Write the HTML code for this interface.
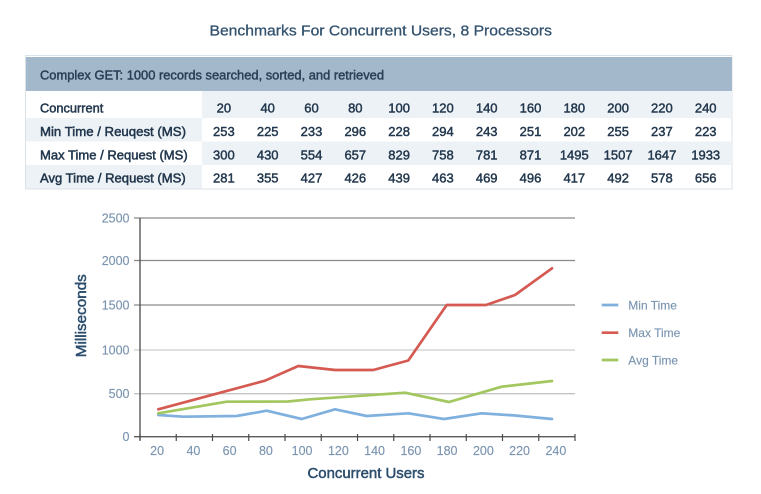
<!DOCTYPE html>
<html>
<head>
<meta charset="utf-8">
<style>
  html,body{margin:0;padding:0;background:#fff;}
  svg{display:block;}
  text{font-family:"Liberation Sans", sans-serif;}
</style>
</head>
<body>
<svg width="761" height="494" viewBox="0 0 761 494" xmlns="http://www.w3.org/2000/svg">
  <rect x="0" y="0" width="761" height="494" fill="#ffffff"/>

  <!-- Title -->
  <text x="209.5" y="35.5" font-size="14.5" fill="#34536f" stroke="#34536f" stroke-width="0.3" textLength="342.5" lengthAdjust="spacingAndGlyphs">Benchmarks For Concurrent Users, 8 Processors</text>

  <!-- Table -->
  <rect x="25.5" y="55.5" width="706.5" height="133.5" fill="#ffffff" stroke="#dbe3ea" stroke-width="1"/>
  <rect x="26" y="57" width="706" height="34" fill="#a3b8cb"/>
  <!-- row stripes -->
  <rect x="202" y="91" width="530" height="27" fill="#edf2f6"/>
  <rect x="26" y="118" width="176" height="23.5" fill="#edf2f6"/>
  <rect x="202" y="141.5" width="530" height="23.5" fill="#edf2f6"/>
  <rect x="26" y="165" width="176" height="23.5" fill="#edf2f6"/>

  <text x="40" y="79.3" font-size="12.5" fill="#2a3f55" stroke="#2a3f55" stroke-width="0.45" textLength="344" lengthAdjust="spacingAndGlyphs">Complex GET: 1000 records searched, sorted, and retrieved</text>

  <g font-size="13" fill="#22374d" stroke="#22374d" stroke-width="0.5">
    <text x="40" y="112.3" textLength="63.3" lengthAdjust="spacingAndGlyphs">Concurrent</text>
    <text x="40" y="136" textLength="146" lengthAdjust="spacingAndGlyphs">Min Time / Reuqest (MS)</text>
    <text x="40" y="159.3" textLength="147.7" lengthAdjust="spacingAndGlyphs">Max Time / Request (MS)</text>
    <text x="40" y="182.6" textLength="145.7" lengthAdjust="spacingAndGlyphs">Avg Time / Request (MS)</text>
  </g>

  <g font-size="13" fill="#22374d" stroke="#22374d" stroke-width="0.45" text-anchor="middle">
    <text x="223.9" y="112.3">20</text><text x="267.7" y="112.3">40</text><text x="311.5" y="112.3">60</text><text x="355.3" y="112.3">80</text><text x="399.1" y="112.3">100</text><text x="442.9" y="112.3">120</text><text x="486.7" y="112.3">140</text><text x="530.5" y="112.3">160</text><text x="574.3" y="112.3">180</text><text x="618.1" y="112.3">200</text><text x="661.9" y="112.3">220</text><text x="705.7" y="112.3">240</text>

    <text x="223.9" y="136">253</text><text x="267.7" y="136">225</text><text x="311.5" y="136">233</text><text x="355.3" y="136">296</text><text x="399.1" y="136">228</text><text x="442.9" y="136">294</text><text x="486.7" y="136">243</text><text x="530.5" y="136">251</text><text x="574.3" y="136">202</text><text x="618.1" y="136">255</text><text x="661.9" y="136">237</text><text x="705.7" y="136">223</text>

    <text x="223.9" y="159.3">300</text><text x="267.7" y="159.3">430</text><text x="311.5" y="159.3">554</text><text x="355.3" y="159.3">657</text><text x="399.1" y="159.3">829</text><text x="442.9" y="159.3">758</text><text x="486.7" y="159.3">781</text><text x="530.5" y="159.3">871</text><text x="574.3" y="159.3">1495</text><text x="618.1" y="159.3">1507</text><text x="661.9" y="159.3">1647</text><text x="705.7" y="159.3">1933</text>

    <text x="223.9" y="182.6">281</text><text x="267.7" y="182.6">355</text><text x="311.5" y="182.6">427</text><text x="355.3" y="182.6">426</text><text x="399.1" y="182.6">439</text><text x="442.9" y="182.6">463</text><text x="486.7" y="182.6">469</text><text x="530.5" y="182.6">496</text><text x="574.3" y="182.6">417</text><text x="618.1" y="182.6">492</text><text x="661.9" y="182.6">578</text><text x="705.7" y="182.6">656</text>
  </g>

  <!-- Chart gridlines -->
  <g stroke-width="1.3" fill="none">
    <line x1="134" y1="218" x2="575" y2="218" stroke="#8a8a8a"/>
    <line x1="134" y1="260.5" x2="575" y2="260.5" stroke="#8a8a8a"/>
    <line x1="134" y1="305" x2="575" y2="305" stroke="#8a8a8a"/>
    <line x1="134" y1="350" x2="575" y2="350" stroke="#cdcdcd"/>
    <line x1="134" y1="393.7" x2="575" y2="393.7" stroke="#c4c4c4"/>
  </g>
  <!-- axes -->
  <line x1="140" y1="218" x2="140" y2="440" stroke="#4a4a4a" stroke-width="1.3"/>
  <line x1="134" y1="436.7" x2="575" y2="436.7" stroke="#5a5a5a" stroke-width="1.3"/>
  <g stroke="#4a4a4a" stroke-width="1.2">
    <line x1="140" y1="434" x2="140" y2="441"/>
    <line x1="176.25" y1="434" x2="176.25" y2="441"/>
    <line x1="212.5" y1="434" x2="212.5" y2="441"/>
    <line x1="248.75" y1="434" x2="248.75" y2="441"/>
    <line x1="285" y1="434" x2="285" y2="441"/>
    <line x1="321.25" y1="434" x2="321.25" y2="441"/>
    <line x1="357.5" y1="434" x2="357.5" y2="441"/>
    <line x1="393.75" y1="434" x2="393.75" y2="441"/>
    <line x1="430" y1="434" x2="430" y2="441"/>
    <line x1="466.25" y1="434" x2="466.25" y2="441"/>
    <line x1="502.5" y1="434" x2="502.5" y2="441"/>
    <line x1="538.75" y1="434" x2="538.75" y2="441"/>
    <line x1="575" y1="434" x2="575" y2="441"/>
  </g>

  <!-- Y labels -->
  <g font-size="12.5" fill="#7b95b0" stroke="#7b95b0" stroke-width="0.15" text-anchor="end">
    <text x="129.5" y="222.5">2500</text>
    <text x="129.5" y="265">2000</text>
    <text x="129.5" y="309.5">1500</text>
    <text x="129.5" y="354.5">1000</text>
    <text x="129.5" y="398.2">500</text>
    <text x="129.5" y="441.2">0</text>
  </g>
  <!-- X labels -->
  <g font-size="12.5" fill="#7b95b0" stroke="#7b95b0" stroke-width="0.15" text-anchor="middle">
    <text x="157.1" y="455">20</text><text x="193.4" y="455">40</text><text x="229.6" y="455">60</text><text x="265.9" y="455">80</text><text x="302.1" y="455">100</text><text x="338.4" y="455">120</text><text x="374.6" y="455">140</text><text x="410.9" y="455">160</text><text x="447.1" y="455">180</text><text x="483.4" y="455">200</text><text x="519.6" y="455">220</text><text x="555.9" y="455">240</text>
  </g>

  <!-- Axis titles -->
  <text x="366" y="478" font-size="15" fill="#2c4e6e" stroke="#2c4e6e" stroke-width="0.5" text-anchor="middle" textLength="117" lengthAdjust="spacingAndGlyphs">Concurrent Users</text>
  <text transform="translate(86,315.7) rotate(-90)" x="0" y="0" font-size="15" fill="#2c4e6e" stroke="#2c4e6e" stroke-width="0.5" text-anchor="middle" textLength="83" lengthAdjust="spacingAndGlyphs">Milliseconds</text>

  <!-- Series -->
  <g fill="none" stroke-width="2.7" stroke-linejoin="round" stroke-linecap="round">
    <polyline stroke="#7fb0de" points="158.3,415 183,416.7 236.7,416 266.7,410.7 301.7,419 335,409.3 366.7,416 408.3,413.3 444,419 481.7,413.3 515,415.5 552,419"/>
    <polyline stroke="#a2c75e" points="158.3,413.3 226.7,401.7 288,401.5 310,399.3 405,392.7 449,402 501.7,386.7 552,381"/>
    <polyline stroke="#d45a52" points="158.3,409.3 265,380.7 298.3,366 335,370 373.3,370 408.3,360.5 446.7,305 486,305 515,295 552,268.3"/>
  </g>

  <!-- Legend -->
  <g stroke-width="2.7">
    <line x1="601.7" y1="305" x2="618.3" y2="305" stroke="#7fb0de"/>
    <line x1="601.7" y1="332.7" x2="618.3" y2="332.7" stroke="#d45a52"/>
    <line x1="601.7" y1="360" x2="618.3" y2="360" stroke="#a2c75e"/>
  </g>
  <g font-size="12" fill="#7b95b0" stroke="#7b95b0" stroke-width="0.15">
    <text x="628.3" y="309.3">Min Time</text>
    <text x="628.3" y="337">Max Time</text>
    <text x="628.3" y="364.3">Avg Time</text>
  </g>
</svg>
</body>
</html>
